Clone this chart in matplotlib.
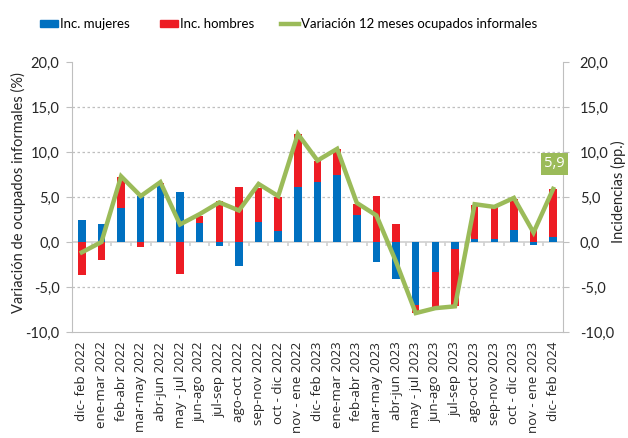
import numpy as np
import matplotlib
matplotlib.use("Agg")
import matplotlib.pyplot as plt
from matplotlib.patches import Patch
from matplotlib.lines import Line2D

plt.rcParams['font.family'] = ['Lato', 'DejaVu Sans']

# datos
periodos = ["dic- feb 2022", "ene-mar 2022", "feb-abr 2022", "mar-may 2022", "abr-jun 2022",
            "may - jul 2022", "jun-ago 2022", "jul-sep 2022", "ago-oct 2022", "sep-nov 2022",
            "oct - dic 2022", "nov - ene 2022", "dic- feb 2023", "ene-mar 2023", "feb-abr 2023",
            "mar-may 2023", "abr-jun 2023", "may - jul 2023", "jun-ago 2023", "jul-sep 2023",
            "ago-oct 2023", "sep-nov 2023", "oct - dic 2023", "nov - ene 2023", "dic- feb 2024"]
inc_mujeres = [2.5, 2.05, 3.75, 5.15, 6.35, 5.55, 2.15, -0.45, -2.7, 2.2, 1.2, 6.15, 6.65,
               7.5, 2.95, -2.2, -4.1, -7.0, -3.3, -0.75, 0.35, 0.35, 1.3, -0.35, 0.55]
inc_hombres = [-3.65, -2.05, 3.45, -0.5, 0.2, -3.6, 0.75, 4.6, 6.15, 3.8, 3.8, 5.85, 2.4,
               2.8, 1.25, 5.1, 1.96, -0.85, -3.95, -6.4, 3.8, 3.55, 3.45, 1.3, 5.3]
variacion = [-1.15, 0.0, 7.3, 5.1, 6.65, 1.95, 3.1, 4.4, 3.5, 6.45, 5.1, 12.0, 9.05, 10.35,
             4.35, 2.95, -2.2, -7.9, -7.35, -7.15, 4.2, 3.9, 4.9, 1.05, 5.9]
yticks = [-10, -5, 0, 5, 10, 15, 20]

azul = '#0070C0'
rojo = '#ED1C24'
verde = '#9BBB59'
gris = '#BFBFBF'
texto = '#262626'

x = np.arange(len(periodos))
muj = np.array(inc_mujeres)
hom = np.array(inc_hombres)
# apilado tipo Excel: positivos sobre positivos, negativos bajo negativos
base_hom = np.where(hom >= 0, np.maximum(muj, 0), np.minimum(muj, 0))

fig = plt.figure(figsize=(6.28, 4.38), dpi=100)
ax = fig.add_axes([72 / 628, 1 - 332 / 438, 491 / 628, 270 / 438])

for v in [-5, 5, 10, 15]:
    ax.axhline(v, color=gris, lw=0.9, ls=(0, (2, 2)), zorder=0)
ax.axhline(0, color='#D0D0D0', lw=1.2, zorder=1)
ax.vlines(x[:-1] + 0.5, -0.45, 0, color='#D0D0D0', lw=1.2, zorder=1)

ax.bar(x, muj, width=0.38, color=azul, zorder=2)
ax.bar(x, hom, width=0.38, bottom=base_hom, color=rojo, zorder=2)
ax.plot(x, variacion, color=verde, lw=3.2, zorder=3, solid_joinstyle='miter')

ax.annotate("5,9", (x[-1], variacion[-1]), xytext=(1, 25), textcoords='offset pixels',
            ha='center', va='center', color='white', fontsize=10.5,
            family=['Open Sans', 'DejaVu Sans'],
            bbox=dict(boxstyle='square,pad=0.22', fc=verde, ec='none'))

ax.set_xlim(-0.5, len(periodos) - 0.5)
ax.set_ylim(-10, 20)
ax.set_yticks(yticks)
ax.set_yticklabels([f"{v:.1f}".replace('.', ',') for v in yticks], fontsize=10.5, color=texto)
ax.set_xticks(x)
ax.set_xticklabels(periodos, rotation=90, fontsize=9.5, color=texto,
                   family=['Open Sans', 'DejaVu Sans'])
ax.tick_params(axis='x', length=0, pad=7)
ax.tick_params(axis='y', length=4, color=gris, pad=5)
for s in ['left', 'bottom', 'right']:
    ax.spines[s].set_color(gris)
ax.spines['top'].set_visible(False)
ax.set_ylabel("Variación de ocupados informales (%)", fontsize=10.5, color=texto)
ax.yaxis.set_label_coords(-0.094, 0.515)

ax2 = ax.twinx()
ax2.set_ylim(-10, 20)
ax2.set_yticks(yticks)
ax2.set_yticklabels([f"{v:.1f}".replace('.', ',') for v in yticks], fontsize=10.5, color=texto)
ax2.tick_params(axis='y', length=4, color=gris, pad=8)
for s in ['left', 'bottom', 'right', 'top']:
    ax2.spines[s].set_visible(False)
ax2.set_ylabel("Incidencias (pp.)", fontsize=10.5, color=texto)
ax2.yaxis.set_label_coords(1.098, 0.52)

# leyenda: una entrada por posición, como en el original
entradas = [(Patch(color=azul), "Inc. mujeres", 40),
            (Patch(color=rojo), "Inc. hombres", 160),
            (Line2D([0], [0], color=verde, lw=3.2), "Variación 12 meses ocupados informales", 281)]
for h, lab, px in entradas:
    fig.legend([h], [lab], loc='center left', bbox_to_anchor=(px / 628, 1 - 24 / 438),
               frameon=False, fontsize=9.5, handlelength=1.4, handleheight=0.5,
               handletextpad=0.15, borderpad=0, borderaxespad=0)

fig.savefig("out.png", dpi=100)
